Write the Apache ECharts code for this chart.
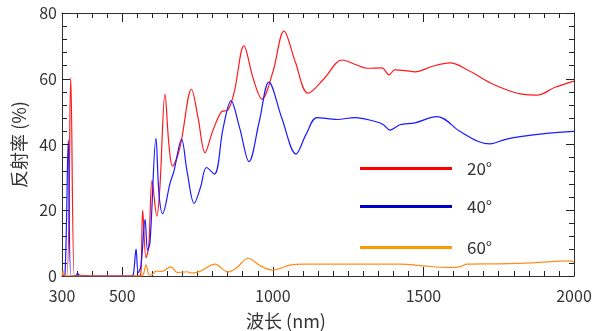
<!DOCTYPE html>
<html>
<head>
<meta charset="utf-8">
<script src="https://cdn.jsdelivr.net/npm/echarts@6/dist/echarts.min.js"></script>
<style>
  html, body { margin: 0; padding: 0; background: #fff; }
  #chart { width: 603px; height: 331px; }
</style>
</head>
<body>
<div id="chart"></div>
<script>
// wavelength (nm) / reflectance (%)
const wl20 = [300, 316, 329, 341, 350, 400, 555, 562, 568, 579, 588, 599, 615, 625, 642, 655, 667, 692, 730, 752, 775, 800, 830, 851, 872, 904, 935, 964, 1000, 1037, 1075, 1117, 1170, 1230, 1270, 1313, 1362, 1386, 1405, 1440, 1472, 1530, 1588, 1650, 1721, 1780, 1821, 1877, 1937, 2000];
const r20  = [0, 0, 60.3, 0, 0.3, 0, 0, 1, 20, 5.5, 9, 29, 18.2, 27, 55.3, 40, 33.5, 39.3, 56.8, 48, 37.5, 44, 50, 50.5, 56, 70, 60, 53.8, 62, 74.5, 65, 55.6, 60, 65.7, 64.5, 63.2, 63.3, 61.2, 62.7, 62.5, 62.1, 63.8, 64.8, 62.5, 58.8, 56.5, 55.4, 55, 57.4, 59.3];

const wl40 = [300, 310, 321, 330, 345, 352, 360, 530, 537, 546, 553, 562, 576, 584, 592, 612, 622, 634, 659, 672, 697, 715, 739, 760, 780, 806, 835, 861, 890, 921, 955, 987, 1030, 1077, 1110, 1147, 1213, 1273, 1340, 1366, 1389, 1422, 1472, 1545, 1621, 1680, 1721, 1770, 1821, 1910, 2000];
const r40  = [0, 0.5, 41.4, 0, 0, 0.8, 0, 0, 0.5, 8.2, 1, 3, 17.2, 7.9, 10, 41.9, 25, 19, 28.3, 32, 41.6, 32, 22.1, 27, 33, 31, 45, 53.3, 45, 34.8, 47, 59, 48, 37.1, 43, 48.2, 47.6, 48.2, 47, 46.1, 44.4, 46, 46.6, 48.5, 44, 41, 40.2, 41.5, 42.4, 43.4, 44];

const wl60 = [300, 304, 310, 560, 570, 579, 590, 599, 612, 630, 662, 683, 715, 730, 760, 808, 851, 880, 918, 960, 1000, 1057, 1100, 1300, 1422, 1500, 1578, 1620, 1645, 1750, 1864, 1987, 2000];
const r60  = [0, 1.5, 0, 0, 0.5, 3.4, 0.3, 0.4, 1.5, 1.4, 2.8, 1, 1.3, 0.9, 1.5, 3.6, 1.2, 2.5, 5.4, 3, 1.8, 3.3, 3.6, 3.6, 3.6, 3.1, 2.6, 2.8, 3.6, 3.7, 4, 4.6, 4.2];

const names = ['20°', '40°', '60°'];
const xLabels = [300, 500, 1000, 1500, 2000];
const xMajor = [500, 1000, 1500];

const pairs = (xs, ys) => xs.map((x, i) => [x, ys[i]]);

const font = '"Noto Sans CJK SC", "Noto Sans", sans-serif';
const ink = '#333';
const tickInk = '#222';

const chart = echarts.init(document.getElementById('chart'));

const xBase = {
  type: 'value', min: 300, max: 2000, gridIndex: 0,
  splitLine: { show: false }
};

chart.setOption({
  animation: false,
  grid: { left: 62, right: 29, top: 13, bottom: 55, outerBoundsMode: 'none' },
  legend: names.map((n, i) => ({
    data: [{ name: n, itemStyle: { color: ['#ff0000', '#0000c8', '#ff9900'][i] } }],
    left: 355, top: [155, 193, 234][i],
    icon: 'rect', itemWidth: 92, itemHeight: 3,
    textStyle: { fontFamily: font, fontSize: 17, color: ink, padding: [0, 0, 0, 10] },
    selectedMode: false
  })),
  xAxis: [
    // bottom: minor ticks every 50 nm + labels
    Object.assign({}, xBase, {
      position: 'bottom', interval: 50,
      name: '波长 (nm)', nameLocation: 'middle', nameGap: 36,
      nameTextStyle: { fontFamily: font, fontSize: 18, color: ink, padding: [0, 64, 0, 0] },
      axisLine: { show: true, onZero: false, lineStyle: { color: ink, width: 1 } },
      axisTick: { show: true, inside: true, length: 5, lineStyle: { color: tickInk, width: 1 } },
      axisLabel: {
        fontFamily: font, fontSize: 16, color: ink, margin: 12,
        formatter: v => xLabels.includes(v) ? String(v) : ''
      }
    }),
    // bottom: longer major ticks
    Object.assign({}, xBase, {
      position: 'bottom',
      axisLine: { show: false, onZero: false },
      axisTick: { show: true, inside: true, length: 9, customValues: xMajor, lineStyle: { color: tickInk, width: 1 } },
      axisLabel: { show: false }
    }),
    // top frame
    Object.assign({}, xBase, {
      position: 'top', interval: 50,
      axisLine: { show: true, onZero: false, lineStyle: { color: ink, width: 1 } },
      axisTick: { show: true, inside: true, length: 5, lineStyle: { color: tickInk, width: 1 } },
      axisLabel: { show: false }
    }),
    Object.assign({}, xBase, {
      position: 'top',
      axisLine: { show: false, onZero: false },
      axisTick: { show: true, inside: true, length: 9, customValues: xMajor, lineStyle: { color: tickInk, width: 1 } },
      axisLabel: { show: false }
    })
  ],
  yAxis: [
    {
      type: 'value', min: 0, max: 80, interval: 20, position: 'left',
      name: '反射率 (%)', nameLocation: 'middle', nameGap: 26, nameRotate: 90,
      nameTextStyle: { fontFamily: font, fontSize: 18, color: ink },
      splitLine: { show: false },
      axisLine: { show: true, onZero: false, lineStyle: { color: ink, width: 1 } },
      axisTick: { show: true, inside: true, length: 8, lineStyle: { color: tickInk, width: 1 } },
      minorTick: { show: true, splitNumber: 5, length: 5, lineStyle: { color: tickInk, width: 1 } },
      axisLabel: { fontFamily: font, fontSize: 16, color: ink, margin: 5 }
    },
    {
      type: 'value', min: 0, max: 80, interval: 20, position: 'right',
      splitLine: { show: false },
      axisLine: { show: true, onZero: false, lineStyle: { color: ink, width: 1 } },
      axisTick: { show: true, inside: true, length: 8, lineStyle: { color: tickInk, width: 1 } },
      minorTick: { show: true, splitNumber: 5, length: 5, lineStyle: { color: tickInk, width: 1 } },
      axisLabel: { show: false }
    }
  ],
  series: [
    { name: names[0], data: pairs(wl20, r20), color: '#ff1a1a' },
    { name: names[1], data: pairs(wl40, r40), color: '#1a1aff' },
    { name: names[2], data: pairs(wl60, r60), color: '#ff8c1a' }
  ].map(s => ({
    name: s.name, type: 'line', data: s.data,
    xAxisIndex: 0, yAxisIndex: 0,
    smooth: 0.35, showSymbol: false, clip: true, z: 3,
    lineStyle: { color: s.color, width: 1.2 },
    itemStyle: { color: s.color }
  }))
});
</script>
</body>
</html>
